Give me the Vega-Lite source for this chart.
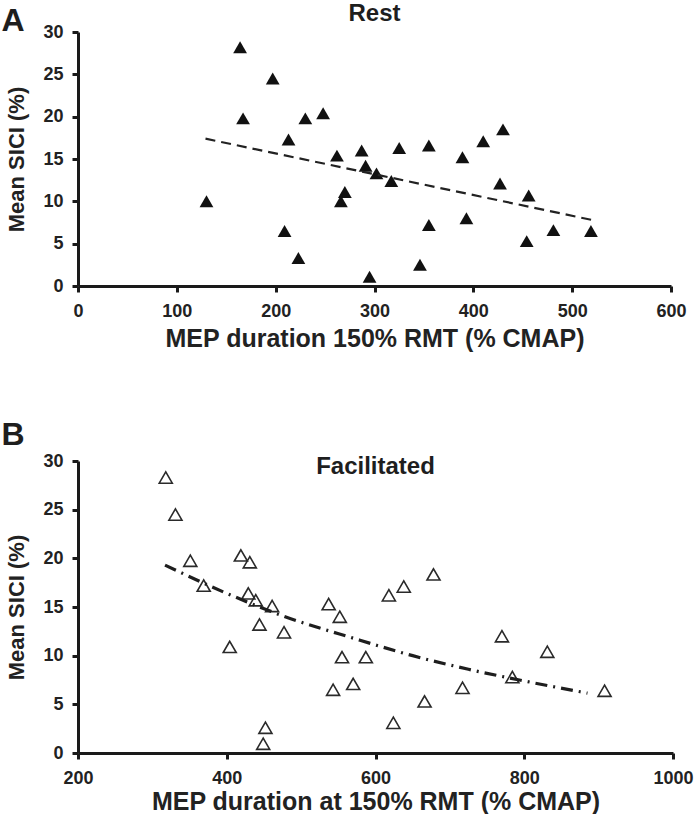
{
  "$schema": "https://vega.github.io/schema/vega-lite/v6.json",
  "padding": {"left": 1, "top": 2, "right": 0, "bottom": 0},
  "background": "white",
  "spacing": 67,
  "config": {
    "font": "Liberation Sans",
    "view": {"stroke": null},
    "axis": {
      "grid": false,
      "domainColor": "#1a1a1a",
      "domainWidth": 3,
      "tickColor": "#1a1a1a",
      "tickWidth": 3,
      "tickSize": 6,
      "labelFont": "Liberation Sans",
      "labelFontWeight": "bold",
      "labelFontSize": 18,
      "labelColor": "#222222",
      "titleFont": "Liberation Sans",
      "titleFontWeight": "bold",
      "titleColor": "#222222",
      "titleFontSize": 25
    },
    "axisX": {"labelPadding": 10, "titlePadding": 6.5, "labelFlush": false, "format": "d"},
    "axisY": {"labelPadding": 9, "titlePadding": 14.5, "titleFontSize": 22},
    "title": {"font": "Liberation Sans", "fontWeight": "bold", "color": "#1e1e1e", "fontSize": 24}
  },
  "datasets": {
    "rest": [
      {"dur": 130, "sici": 10.0},
      {"dur": 164, "sici": 28.2},
      {"dur": 167, "sici": 19.8},
      {"dur": 197, "sici": 24.5},
      {"dur": 213, "sici": 17.3},
      {"dur": 209, "sici": 6.5},
      {"dur": 223, "sici": 3.3},
      {"dur": 230, "sici": 19.8},
      {"dur": 248, "sici": 20.4},
      {"dur": 262, "sici": 15.4},
      {"dur": 266, "sici": 10.0},
      {"dur": 270, "sici": 11.1},
      {"dur": 287, "sici": 16.0},
      {"dur": 291, "sici": 14.2},
      {"dur": 295, "sici": 1.1},
      {"dur": 302, "sici": 13.3},
      {"dur": 317, "sici": 12.4},
      {"dur": 325, "sici": 16.3},
      {"dur": 355, "sici": 16.6},
      {"dur": 355, "sici": 7.2},
      {"dur": 346, "sici": 2.5},
      {"dur": 389, "sici": 15.2},
      {"dur": 393, "sici": 8.0},
      {"dur": 410, "sici": 17.1},
      {"dur": 430, "sici": 18.5},
      {"dur": 427, "sici": 12.1},
      {"dur": 456, "sici": 10.7},
      {"dur": 454, "sici": 5.3},
      {"dur": 481, "sici": 6.6},
      {"dur": 519, "sici": 6.5}
    ],
    "restFit": [
      {"dur": 129, "sici": 17.4},
      {"dur": 520, "sici": 7.8}
    ],
    "fac": [
      {"dur": 318, "sici": 28.3},
      {"dur": 331, "sici": 24.5},
      {"dur": 351, "sici": 19.75},
      {"dur": 369, "sici": 17.2},
      {"dur": 404, "sici": 10.9},
      {"dur": 419, "sici": 20.3},
      {"dur": 431, "sici": 19.6},
      {"dur": 429, "sici": 16.4},
      {"dur": 439, "sici": 15.7},
      {"dur": 444, "sici": 13.2},
      {"dur": 461, "sici": 15.1},
      {"dur": 477, "sici": 12.4},
      {"dur": 452, "sici": 2.6},
      {"dur": 449, "sici": 0.95},
      {"dur": 537, "sici": 15.3},
      {"dur": 552, "sici": 14.0},
      {"dur": 555, "sici": 9.85},
      {"dur": 587, "sici": 9.85},
      {"dur": 543, "sici": 6.5},
      {"dur": 570, "sici": 7.1},
      {"dur": 618, "sici": 16.2},
      {"dur": 638, "sici": 17.1},
      {"dur": 678, "sici": 18.35},
      {"dur": 666, "sici": 5.3},
      {"dur": 624, "sici": 3.1},
      {"dur": 717, "sici": 6.7},
      {"dur": 770, "sici": 12.0},
      {"dur": 784, "sici": 7.8},
      {"dur": 831, "sici": 10.4},
      {"dur": 908, "sici": 6.4}
    ],
    "facFit": [
      {"dur": 317, "sici": 19.3},
      {"dur": 400, "sici": 16.4},
      {"dur": 475, "sici": 14.1},
      {"dur": 570, "sici": 11.8},
      {"dur": 650, "sici": 10.0},
      {"dur": 725, "sici": 8.6},
      {"dur": 800, "sici": 7.4},
      {"dur": 885, "sici": 6.15}
    ]
  },
  "vconcat": [
    {
      "title": {"text": "A", "anchor": "start", "frame": "bounds", "fontSize": 32, "offset": -36, "dx": -4},
      "vconcat": [
        {
          "title": {"text": "Rest", "offset": -3},
          "width": 593,
          "height": 254,
          "layer": [
            {
              "data": {"name": "rest"},
              "mark": {"type": "point", "shape": "triangle-up", "filled": true, "size": 190, "color": "#111111", "opacity": 1},
              "encoding": {
                "x": {"field": "dur", "type": "quantitative", "scale": {"domain": [0, 600], "nice": false}, "axis": {"values": [0, 100, 200, 300, 400, 500, 600], "title": "MEP duration 150% RMT (% CMAP)"}},
                "y": {"field": "sici", "type": "quantitative", "scale": {"domain": [0, 30], "nice": false}, "axis": {"values": [0, 5, 10, 15, 20, 25, 30], "title": "Mean SICI (%)"}}
              }
            },
            {
              "data": {"name": "restFit"},
              "mark": {"type": "line", "color": "#222222", "strokeWidth": 2.2, "strokeDash": [10, 6]},
              "encoding": {
                "x": {"field": "dur", "type": "quantitative"},
                "y": {"field": "sici", "type": "quantitative"}
              }
            }
          ]
        }
      ]
    },
    {
      "title": {"text": "B", "anchor": "start", "frame": "bounds", "fontSize": 32, "offset": 0, "dx": -4},
      "vconcat": [
        {
          "title": {"text": "Facilitated", "offset": -27},
          "width": 595,
          "height": 292,
          "layer": [
            {
              "data": {"name": "fac"},
              "mark": {"type": "point", "shape": "triangle-up", "filled": false, "size": 170, "color": "#2a2a2a", "strokeWidth": 1.6, "opacity": 1},
              "encoding": {
                "x": {"field": "dur", "type": "quantitative", "scale": {"domain": [200, 1000], "nice": false}, "axis": {"values": [200, 400, 600, 800, 1000], "title": "MEP duration at 150% RMT (% CMAP)", "titlePadding": 2}},
                "y": {"field": "sici", "type": "quantitative", "scale": {"domain": [0, 30], "nice": false}, "axis": {"values": [0, 5, 10, 15, 20, 25, 30], "title": "Mean SICI (%)"}}
              }
            },
            {
              "data": {"name": "facFit"},
              "mark": {"type": "line", "color": "#1e1e1e", "strokeWidth": 3.2, "strokeDash": [12, 6, 2, 6], "interpolate": "monotone"},
              "encoding": {
                "x": {"field": "dur", "type": "quantitative"},
                "y": {"field": "sici", "type": "quantitative"}
              }
            }
          ]
        }
      ]
    }
  ]
}
